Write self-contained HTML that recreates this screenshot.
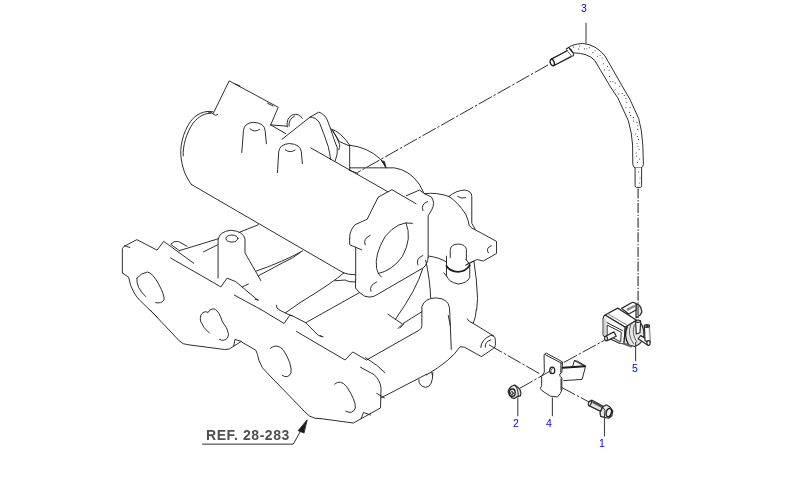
<!DOCTYPE html>
<html><head><meta charset="utf-8"><title>Parts diagram</title>
<style>
html,body{margin:0;padding:0;background:#fff;}
body{width:800px;height:497px;overflow:hidden;position:relative;font-family:"Liberation Sans",sans-serif;}
svg{position:absolute;left:0;top:0;display:block}
.l *{fill:none;stroke:#1c1c1c;stroke-width:0.92;vector-effect:non-scaling-stroke;stroke-linecap:round;stroke-linejoin:round}
.l .w{fill:#fff}
.l .d{stroke-dasharray:15 2 2.5 2;stroke-linecap:butt}
.l .k{fill:#1a1a1a}
.l .g0{fill:#f6f6f6}.l .g1{fill:#e6e6e6}.l .g2{fill:#d0d0d0}
.l .t{stroke-width:1.2;stroke:#2a2a2a}
.l .dv{stroke:#666;stroke-width:1.5;stroke-dasharray:10 1.6 1.4 1.6;stroke-linecap:butt}
.l .ld{stroke:#444;stroke-width:1.1;stroke-linecap:butt}
.l .dots circle{fill:#333;stroke:none}
.n,#ref{will-change:transform}
.n{position:absolute;color:#0000ff;font-size:10.5px;line-height:10px;}
</style></head><body>
<svg class="l" width="800" height="497" viewBox="0 0 800 497">
<g><g transform="translate(160,60) scale(0.25151)">
<path d="M212,212 L275,83 L470,188 L440,258"/>
<path d="M298,95 L318,103"/>
<path d="M428,172 L450,183"/>
<path d="M193,207 Q205,205 212,215 Q220,224 229,217"/>
<path d="M325,368 L332,280 Q335,250 372,248 Q415,250 418,280 L423,333"/>
<path d="M358,274 Q376,290 396,276"/>
<path d="M467,448 L472,365 Q475,335 515,332 Q558,335 562,365 L566,412"/>
<path d="M498,357 Q517,372 537,358"/>
<path d="M440,258 L505,263"/>
<path d="M440,258 L500,293"/>
<path d="M506,266 Q500,232 527,218 Q552,210 566,232"/>
<path d="M513,263 Q510,235 535,223"/>
</g></g>
<g><g transform="translate(300,105) scale(0.12500)">
<path d="M-144,274 L80,97 L150,57 Q195,70 218,120 L245,190 Q275,290 298,340 Q305,390 282,447"/>
<path d="M80,97 Q125,95 155,140 Q190,225 225,330 Q240,395 245,437"/>
<path d="M245,190 Q330,215 397,322"/>
<path d="M255,197 Q290,250 315,292 L392,326"/>
<path d="M262,205 Q300,265 318,318 Q318,340 310,358"/>
</g></g>
<g><g transform="translate(320,110) scale(0.25151)">
<path d="M-36,151 L270,325"/>
<path d="M118,140 L118,240"/>
<path d="M118,140 Q190,148 240,195 Q256,212 262,230"/>
<path class="k" d="M246,203 L262,228 L256,206 Z"/>
<path d="M118,230 L295,230 Q355,238 395,295 L412,328"/>
<path d="M118,240 L150,252"/>
</g></g>
<g><g transform="translate(340,180) scale(0.20121)">
<path d="M48,290 Q45,255 75,222 L135,195 L190,85 L258,48 L378,118"/>
<path d="M330,78 L395,50 L420,68 L455,85 Q475,115 455,150 L438,178 L438,385"/>
<path d="M412,152 Q400,120 435,107"/>
<path d="M48,290 L48,322 L108,347"/>
<path d="M78,335 L78,497"/>
<path d="M125,322 Q112,292 150,275"/>
<path d="M360,215 Q290,200 225,280 Q170,370 182,440 Q188,470 205,482"/>
<path d="M328,213 Q360,290 310,380 Q260,450 190,465"/>
<path d="M387,422 Q375,390 412,375"/>
<path d="M438,385 Q435,420 415,435"/>
<path d="M420,68 Q480,60 542,82"/>
<path d="M542,82 Q575,52 620,50 Q655,55 655,82 L655,215 L672,245"/>
<path d="M542,82 Q585,110 625,170 Q640,205 642,227 Q655,242 673,248 L778,305 L778,365 L712,403 L682,395 L630,420"/>
<path d="M585,82 Q600,95 624,88"/>
<path d="M737,362 Q722,338 752,327"/>
<path d="M548,385 L548,345 Q552,320 588,318 Q625,320 628,345 L628,395"/>
<path d="M440,378 Q495,385 530,408"/>
</g></g>
<g><g transform="translate(120,185) scale(0.25151)">
<path d="M475,188 L550,158"/>
<path d="M390,370 L390,218 Q395,185 440,180 Q490,183 497,215 L497,270 L560,380"/>
<ellipse cx="445" cy="213" rx="24" ry="14"/>
<path d="M542,342 Q650,305 726,262"/>
<path d="M552,360 L646,310 Q690,290 716,269"/>
</g></g>
<g><g transform="translate(115,230) scale(0.17505)">
<path d="M42,245 L42,105 L55,92 L125,55 L240,115 L278,65 L450,190"/>
<path d="M55,90 L85,100"/>
<path d="M368,118 L318,82 Q335,60 362,66 L412,93"/>
<path d="M368,118 L590,50"/>
<path d="M505,125 L585,85"/>
<path d="M318,160 L605,325 L640,275 L690,295 L816,401"/>
<path d="M728,325 L762,308"/>
<path d="M682,372 L833,454"/>
<path d="M42,245 L78,270 Q85,320 110,360 Q125,385 140,400 L240,497"/>
<path d="M125,275 Q150,245 185,240 Q215,245 250,310 Q285,375 280,400 Q265,422 232,415"/>
<path d="M125,275 Q120,330 175,380"/>
</g></g>
<g><g transform="translate(320,235) scale(0.25151)">
<path d="M420,100 Q438,180 440,250"/>
<path d="M408,135 Q385,215 300,335"/>
<path d="M270,315 L325,352"/>
<path d="M310,372 L330,352 L405,305"/>
<path d="M-93,384 L100,497 L130,465 L185,497 L395,378 Q405,372 405,360 L405,285 Q415,252 460,250 Q510,252 515,290 L518,360 L522,455"/>
<path d="M510,320 L518,360"/>
<path d="M0,400 L12,405"/>
</g></g>
<g><g transform="translate(300,245) scale(0.15091)">
<path d="M290,185 Q320,197 365,197"/>
<path d="M290,185 Q225,245 0,382 L-97,450"/>
<path d="M232,237 L300,232 L325,243 L365,245"/>
<path d="M368,232 L368,285 Q385,315 430,340 Q465,352 495,338 L815,152"/>
<path d="M470,307 Q455,268 508,245"/>
<path d="M38,515 L395,315"/>
</g></g>
<g><g transform="translate(400,235) scale(0.15091)">
<path d="M308,140 L308,270 Q320,310 385,325 Q445,318 462,282 L462,190"/>
<path d="M308,205 Q330,240 385,245 Q440,240 462,200" style="stroke-width:1.8"/>
<path d="M435,160 L455,185"/>
<path d="M290,250 L308,272"/>
<path d="M435,200 L490,172"/>
<path d="M490,175 Q510,300 514,420 L508,497"/>
</g></g>
<g><g transform="translate(400,300) scale(0.15091)">
<path d="M0,185 L25,160"/>
<path d="M505,66 Q505,110 485,155"/>
<path d="M445,125 Q455,145 485,155 L620,238 Q632,245 632,270 L632,300 Q630,315 618,322 L540,375 L425,312 L398,310 Q340,400 175,497"/>
<path d="M535,315 Q538,262 600,235 L620,238"/>
<path d="M566,312 Q558,278 602,264"/>
<path d="M210,480 L215,497"/>
</g></g>
<g><g transform="translate(120,310) scale(0.25151)">
<path d="M120,0 L235,122 Q250,138 270,138 L415,157 Q435,160 452,144 L482,125"/>
<path d="M452,144 L457,117 L482,125"/>
<path d="M485,128 L540,160 Q548,175 552,200 Q565,235 585,250 L735,405 Q750,425 775,430 L795,432"/>
<path d="M598,152 Q625,130 650,160 Q685,215 680,250 Q668,275 645,260"/>
</g></g>
<g><g transform="translate(240,285) scale(0.15091)">
<path d="M100,95 L122,100"/>
<path d="M138,162 L292,255 L330,200 L345,203 L435,250 L520,335 L545,342"/>
<path d="M240,135 Q238,155 265,168 L300,185 L345,205"/>
</g></g>
<g><g transform="translate(290,335) scale(0.25151)">
<path d="M300,90 Q350,120 378,150"/>
<path d="M119,332 L252,350 L360,290 L362,210 Q358,180 335,158 L280,128"/>
<path d="M283,333 L292,308 L320,318"/>
<path d="M178,195 Q200,175 225,205 Q262,260 260,290 Q250,318 222,303"/>
<path d="M345,232 L375,250"/>
<path d="M362,250 L545,155"/>
<path d="M512,178 Q512,205 540,208 Q568,205 568,150"/>
</g></g>
<g><g transform="translate(190,410) scale(0.17500)">
<path d="M72,195 L590,195 L635,115"/>
<path class="k" d="M668,58 L618,118 L650,130 Z"/>
</g></g>
<g><g transform="translate(0,0) scale(1.00000)">
<path class="d" d="M548,65 L357.5,172.5"/>
<path d="M191.4,184.5 L343.8,273"/>
<path class="d" d="M489,344.8 L541,374.5"/>
<path d="M212.9,111.75 C205,110 196,114 190.5,121.5 C183,132 179,148 181.4,160 C183,170 186,177 191.4,184.5"/>
<path d="M211,113.3 C205,112.8 198.5,116.5 193.2,123 C186.5,132.5 182.6,146 183.2,156"/>
<path d="M209.4,333.1 Q203,328 200.5,321 Q199.5,315 203.1,312.5 Q206,310.8 208.1,312.5 Q208.8,309.5 213.1,308.75 Q217.5,309 220.6,316.9 L222.5,321.9 Q227.5,328 228.5,333.75 Q228.2,339.5 223.75,340.25 Q221.5,340.5 219.4,339.4"/>
</g></g>
<g><g transform="translate(0,0) scale(1.00000)">
<path class="w" d="M567.6,48.1 Q571,44.5 582.5,43.4 Q596,44.5 605,56 L622.75,87 L630,99.5 L638.75,118.75 Q642,130 642.8,145 L643.4,164.3 Q643,167 641.6,167.8 L635.1,167.8 Q633,167 632.8,164.3 L632.6,145 Q632,133 628.25,120.5 L617.75,97.75 L610.5,87 L594.75,60.4 Q588,53 573.4,52.85 L573.5,56 Q571.5,56.8 570,54.5 L566.3,49.8 Q565.6,48 567.6,48.1 Z"/>
<path d="M568.85,47.6 L572.9,52.5" style="stroke-width:1.4"/>
<path class="w" d="M567.1,50.75 L551.35,59.15 L553.6,65.8 L571.0,56.6" style="stroke-width:1.3"/>
<ellipse class="w" cx="552.2" cy="62.5" rx="1.9" ry="3.4" transform="rotate(-20 552.2 62.5)" style="stroke-width:1.4"/>
<path class="w" d="M635.1,167.8 L635.1,185.5 Q635.3,187.4 636.6,187.4 L640.4,187.4 Q641.6,187.3 641.6,185.5 L641.6,167.8"/>
<g class="dots"><circle cx="571.3" cy="49.3" r="0.55"/><circle cx="573.5" cy="47.1" r="0.55"/><circle cx="578.5" cy="49.1" r="0.55"/><circle cx="579.8" cy="46.1" r="0.55"/><circle cx="584.4" cy="48.9" r="0.55"/><circle cx="586.9" cy="48.8" r="0.55"/><circle cx="589.3" cy="47.7" r="0.55"/><circle cx="592.8" cy="52.6" r="0.55"/><circle cx="595.1" cy="50.7" r="0.55"/><circle cx="597.5" cy="56.2" r="0.55"/><circle cx="600.1" cy="55.2" r="0.55"/><circle cx="602.1" cy="58.0" r="0.55"/><circle cx="603.4" cy="63.7" r="0.55"/><circle cx="604.3" cy="69.9" r="0.55"/><circle cx="607.6" cy="66.6" r="0.55"/><circle cx="609.0" cy="70.3" r="0.55"/><circle cx="609.6" cy="76.4" r="0.55"/><circle cx="610.2" cy="81.6" r="0.55"/><circle cx="612.9" cy="81.5" r="0.55"/><circle cx="615.2" cy="82.9" r="0.55"/><circle cx="615.1" cy="89.7" r="0.55"/><circle cx="619.7" cy="86.2" r="0.55"/><circle cx="618.8" cy="94.1" r="0.55"/><circle cx="622.2" cy="93.5" r="0.55"/><circle cx="624.3" cy="95.5" r="0.55"/><circle cx="626.0" cy="98.3" r="0.55"/><circle cx="626.8" cy="102.2" r="0.55"/><circle cx="625.9" cy="107.8" r="0.55"/><circle cx="630.2" cy="107.5" r="0.55"/><circle cx="629.6" cy="112.4" r="0.55"/><circle cx="630.7" cy="115.6" r="0.55"/><circle cx="633.3" cy="117.4" r="0.55"/><circle cx="633.5" cy="121.1" r="0.55"/><circle cx="637.0" cy="122.4" r="0.55"/><circle cx="637.8" cy="125.7" r="0.55"/><circle cx="637.7" cy="129.4" r="0.55"/><circle cx="635.6" cy="134.0" r="0.55"/><circle cx="637.5" cy="136.5" r="0.55"/><circle cx="638.4" cy="139.4" r="0.55"/><circle cx="637.0" cy="143.2" r="0.55"/><circle cx="638.0" cy="146.2" r="0.55"/><circle cx="639.2" cy="149.2" r="0.55"/><circle cx="636.2" cy="153.0" r="0.55"/><circle cx="636.8" cy="156.1" r="0.55"/><circle cx="639.7" cy="159.1" r="0.55"/><circle cx="637.6" cy="162.4" r="0.55"/><circle cx="638.6" cy="172.0" r="0.55"/><circle cx="640.0" cy="178.0" r="0.55"/><circle cx="639.4" cy="183.0" r="0.55"/></g>
</g></g>
<g><g transform="translate(585,285) scale(0.12500)">
<path class="g1 t" d="M408,150 L424,155 Q448,168 455,215 L442,240 L408,262 Z"/>
<path class="w t" d="M293,187 L380,138 L408,147 L408,200 L350,232 Z"/>
<path d="M336,199 L400,166" style="stroke-width:2.4;stroke:#8a8a8a;stroke-linecap:butt"/>
<path class="w t" d="M160,240 L262,185 L412,282 L322,338 Z"/>
<path d="M185,232 L332,318" style="stroke:#777"/>
<path class="g0 t" d="M160,240 Q145,250 145,270 L145,400 L150,408 L280,468 L312,470 L322,338 Z"/>
<path class="g2" style="stroke:none" d="M148,268 L166,276 L166,410 L148,402 Z"/>
<path d="M175,300 L300,365"/>
<path class="w" d="M180,322 L290,378 L285,455 L180,400 Z"/>
<path class="g1 t" d="M322,338 L412,282 Q470,300 472,400 Q460,470 400,492 L312,470 Z"/>
<path d="M338,335 Q305,400 350,482" style="stroke-width:1.4"/>
<path d="M365,322 Q335,395 388,470" style="stroke:#555"/>
<path d="M395,318 Q368,390 415,455" style="stroke:#555"/>
<path d="M312,470 L370,492" style="stroke-width:2;stroke:#666"/>
<path class="w t" d="M405,292 L410,392 L440,382 L445,292 Z"/>
<ellipse class="g1 t" cx="425" cy="290" rx="20" ry="9"/>
<path class="w t" d="M425,430 L500,480 L515,445 L445,405 Z"/>
<path class="w t" d="M475,328 L480,445 L520,458 L515,328 Z"/>
<path class="g1" style="stroke:none" d="M505,335 L516,335 L519,455 L508,452 Z"/>
<ellipse class="g0 t" cx="495" cy="328" rx="21" ry="11"/>
<ellipse class="g0" cx="495" cy="328" rx="9" ry="5"/>
<ellipse class="w t" cx="508" cy="464" rx="13" ry="19"/>
<path class="g0 t" d="M160,412 L232,375 L250,410 L178,445 Z"/>
<ellipse class="w t" cx="168" cy="428" rx="11" ry="18"/>
</g></g>
<g><g transform="translate(520,335) scale(0.12500)">
<path class="w" d="M195,155 L210,145 L340,215 L335,300 L318,312 L320,330 L335,345 L335,440 L322,468 L300,495 L245,490 L175,445 L163,428 L173,405 L173,330 L193,300 Z"/>
<path d="M203,158 L332,226"/>
<path d="M328,222 L326,298"/>
<path d="M328,350 L328,440"/>
<ellipse cx="258" cy="283" rx="20" ry="26" style="stroke-width:1.2"/>
<path d="M250,300 Q240,280 258,266" style="stroke:#666"/>
<path d="M340,262 L520,250" style="stroke-width:1.8"/>
<path d="M420,255 L435,205 L460,210 L525,248 L497,355 L350,365"/>
<path d="M435,205 L520,250"/>
</g></g>
<g><g transform="translate(500,375) scale(0.06250)">
<path class="g1 t" d="M150,215 L185,180 L235,160 L285,195 L320,235 L335,290 L325,335 L275,345 L230,375 L190,365 L150,320 L130,265 Z"/>
<path d="M235,160 Q300,225 290,340"/>
<ellipse class="g0" cx="195" cy="282" rx="48" ry="58" style="stroke-width:1.3"/>
<ellipse class="g0" cx="190" cy="290" rx="20" ry="28"/>
</g></g>
<g><g transform="translate(575,392) scale(0.06250)">
<path class="g1 t" d="M215,175 L265,130 L450,230 L410,310 L222,218 Z"/>
<path d="M290,165 L420,235" style="stroke:#555;stroke-width:2"/>
<ellipse class="g0 t" cx="238" cy="180" rx="22" ry="38" transform="rotate(25 238 180)"/>
<path class="g1 t" d="M440,240 L500,205 L560,240 L605,300 L590,380 L540,420 L470,405 L410,390 L400,330 L430,270 Z"/>
<ellipse class="g0" cx="540" cy="330" rx="40" ry="68" transform="rotate(15 540 330)" style="stroke-width:1.3"/>
<path d="M440,240 L480,290 L470,405"/>
</g></g>
<g><g transform="translate(0,0) scale(1.00000)">
<path class="d" d="M519.6,388.4 L549.8,371.3"/>
<path class="d" d="M563.75,362.5 L604,340.5"/>
<path class="d" d="M561.9,387.6 L589,402"/>
<path class="dv" d="M638.1,188.5 L638.1,321"/>
<path class="ld" d="M586,22.75 L586,43.5"/>
<path class="ld" d="M635.6,342 L635.6,361.25"/>
<path class="ld" d="M517.8,397.5 L517.8,416.3"/>
<path class="ld" d="M552.4,397.5 L552.4,416.3"/>
<path class="ld" d="M604.5,418.2 L604.5,436.5"/>
</g></g>
</svg>
<div id="ref" style="position:absolute;left:206.2px;top:427.9px;font-size:14px;line-height:14px;font-weight:bold;color:#505050;white-space:nowrap;letter-spacing:0.55px">REF. 28-283</div>
<div class="n" style="left:580.65px;top:3.20px">3</div>
<div class="n" style="left:631.5px;top:363.05px">5</div>
<div class="n" style="left:512.8px;top:418.00px">2</div>
<div class="n" style="left:546.05px;top:418.00px">4</div>
<div class="n" style="left:599.3px;top:437.90px">1</div>
</body></html>
